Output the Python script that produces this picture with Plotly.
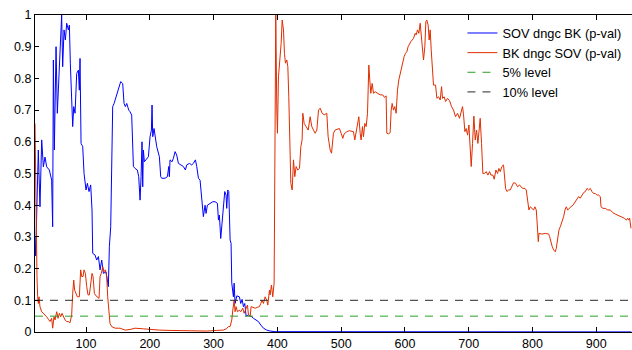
import plotly.graph_objects as go

# ---- data ----
sov_x = [20, 21, 25.2, 27.8, 30.5, 33.1, 35.7, 38.3, 42.5, 46.1, 47.7, 48.8, 50.3, 53, 55, 58.2, 60.3, 61.8,
         63.4, 65.5, 67.6, 69.7, 72.3, 73.9, 75.4, 77.5, 79.1, 80.7, 82.8, 85.4, 88, 89.5, 90.6, 92.2, 94.8,
         96.9, 100, 102.1, 104.7, 107.3, 109.4, 110.5, 114.1, 116.7, 119.4, 122, 124.6, 127.2, 131.4, 135,
         136.6, 138.7, 141.8, 144, 147, 149.2, 152.3, 154.4, 157.5, 159.6, 161.7, 163.8, 167, 169, 171.6,
         174.3, 176.9, 178.4, 180.5, 182.6, 184.7, 186.3, 187.8, 188.9, 189.9, 191.5, 194, 197.8, 200.4,
         202.5, 203.5, 204.6, 206.6, 208.7, 210.8, 215, 217.1, 218.7, 223.9, 227.6, 229.7, 230.7, 231.7,
         234.9, 237, 239.6, 242.2, 244.8, 248.5, 252.7, 255.8, 257.9, 262.1, 265.7, 268.3, 271.5, 273.6,
         276.2, 278.8, 281.4, 284, 286.6, 288.2, 290.3, 294.5, 298.7, 302.3, 306, 307.6, 309.1, 311.2,
         313.3, 315.4, 317.5, 319.6, 320.6, 322.2, 323.8, 325.9, 327.4, 328.5, 331.1, 332.2, 333.7, 336.4,
         340.5, 342.6, 344.7, 346.8, 348.9, 351, 354.7, 357.3, 359.9, 362.5, 366.7, 370.3, 374, 378.2,
         383.4, 388.6, 396.5, 500, 700, 955]
sov_p = [0.30, 0.24, 0.574, 0.395, 0.606, 0.521, 0.552, 0.521, 0.511, 0.479, 0.332, 0.858, 0.574, 0.9, 0.69,
         0.848, 0.963, 1.0, 0.837, 0.953, 0.921, 0.974, 0.953, 0.968, 0.848, 0.753, 0.648, 0.711, 0.69,
         0.816, 0.826, 0.763, 0.863, 0.595, 0.585, 0.5, 0.448, 0.469, 0.443, 0.464, 0.385, 0.248, 0.243,
         0.227, 0.238, 0.196, 0.227, 0.185, 0.19, 0.143, 0.269, 0.332, 0.711, 0.721, 0.742, 0.753, 0.779,
         0.79, 0.784, 0.721, 0.711, 0.721, 0.7, 0.695, 0.684, 0.522, 0.516, 0.513, 0.511, 0.49, 0.416,
         0.49, 0.6, 0.458, 0.574, 0.537, 0.543, 0.553, 0.616, 0.637, 0.716, 0.616, 0.642, 0.616, 0.585,
         0.553, 0.49, 0.485, 0.485, 0.49, 0.522, 0.49, 0.543, 0.537, 0.548, 0.569, 0.558, 0.532, 0.527,
         0.522, 0.511, 0.527, 0.532, 0.527, 0.532, 0.543, 0.522, 0.485, 0.479, 0.406, 0.364, 0.4, 0.374,
         0.4, 0.406, 0.411, 0.411, 0.406, 0.353, 0.369, 0.295, 0.353, 0.395, 0.443, 0.432, 0.39, 0.448,
         0.443, 0.29, 0.28, 0.154, 0.111, 0.154, 0.09, 0.114, 0.111, 0.09, 0.103, 0.08, 0.09, 0.05, 0.054,
         0.05, 0.048, 0.043, 0.038, 0.033, 0.022, 0.012, 0.006, 0.003, 0.001, 0.0006, 0.0004, 0.0003]

bk_x = [20, 21, 22, 23.1, 24.2, 25.2, 26.3, 27.8, 30.5, 33.1, 35.7, 38.3, 41, 43.5, 46.1, 47.7, 49.8, 51.4,
        54, 56.1, 58.2, 60.3, 62.4, 64.5, 67.1, 69.7, 72.3, 74.9, 76, 77.5, 79.1, 80.7, 82.2, 84.3, 86.4,
        89.5, 91.6, 93.2, 95.3, 96.9, 99, 101.1, 103.1, 105.2, 107.3, 109.4, 111, 113.1, 115.7, 118.3,
        120.4, 122, 124, 126.2, 128.2, 130.3, 132.4, 134, 135.6, 137.6, 140.3, 145.5, 153.4, 161.2, 169,
        176.9, 190, 200, 215, 230, 250, 270, 290, 305, 315, 320, 323.2, 325.9, 328.5, 330.1, 332.2, 333.7,
        335.3, 337.4, 340.5, 342.6, 345.8, 347.9, 351, 353.1, 354.7, 357.3, 358.8, 361.5, 365.1, 368.8,
        371.9, 374, 376, 378.2, 380.8, 383.4, 385, 387.6, 388.6, 390.7, 392.8, 394.9, 396, 397.5, 399.1,
        400.1, 401.7, 404.3, 405.9, 407.5, 409.6, 411.1, 412.7, 414.8, 416.4, 417.9, 419.5, 421.1, 423.2,
        425.3, 427.3, 429.4, 432, 434.7, 436.8, 438.8, 439.9, 442, 445.1, 448.3, 451.4, 454, 456.6, 459.2,
        461.9, 464.5, 467.1, 470.2, 473.4, 477.5, 479.6, 482.8, 484.9, 487.9, 490.5, 494.2, 497.3, 500,
        502.6, 504.7, 508.8, 513, 516.7, 519.3, 521.4, 523.5, 526.1, 527.7, 529.8, 531.3, 533.4, 535,
        537.1, 539.2, 541.3, 542.3, 543.4, 544.9, 546.5, 548.6, 550.7, 553.3, 557, 561.1, 565.3, 567.9,
        570.5, 571.6, 574.2, 576.8, 578.4, 580, 582, 584.1, 586.2, 588.3, 590.4, 592.5, 594.6, 596.7,
        598.8, 600.9, 603, 605, 607.1, 609.2, 611.3, 613.4, 616, 617.6, 619.7, 621.8, 623.9, 625.4, 627,
        629.1, 631.2, 632.8, 634.3, 636.4, 638, 639.6, 641.2, 642.7, 644.8, 648, 650.1, 652.7, 655.3,
        657.4, 659, 661.6, 663.7, 666.8, 669.9, 673.1, 676.2, 679.3, 682.5, 685.6, 688.2, 690.3, 691.9,
        694, 696.1, 698.2, 700.3, 702.3, 703.9, 706, 708.1, 710.2, 712.3, 714.4, 716.5, 718, 720.1, 722.2,
        724.8, 727.4, 730.1, 732.7, 734.8, 737.9, 740, 742.6, 745.2, 747.3, 749.4, 752, 754.6, 755.7,
        757.8, 759.9, 762.5, 765.1, 767.7, 770.3, 773.5, 776.6, 779.7, 781.8, 785, 788.1, 790.2, 792.3,
        794.4, 796.5, 799.1, 801.7, 803.8, 805.9, 807, 809.1, 810.1, 814.8, 820, 825.3, 826.8, 828.9, 831,
        833.1, 835.7, 837.3, 839.4, 841.5, 843.6, 846.2, 848.8, 850.9, 853, 855.1, 857.2, 860.3, 863.4,
        867.1, 869.7, 872.3, 874.9, 877.5, 880.2, 882.8, 885.4, 888, 890.6, 893.2, 895.8, 898.5, 901.1,
        903.7, 906.3, 907.4, 910.5, 914.1, 917.8, 922, 926.2, 929.8, 933.5, 936.6, 940.3, 943.9, 947.1,
        949.2, 950.7, 952.3, 954.4]
bk_p = [0.658, 0.49, 0.28, 0.175, 0.111, 0.09, 0.111, 0.08, 0.064, 0.059, 0.054, 0.048, 0.04, 0.033, 0.043,
        0.012, 0.048, 0.038, 0.064, 0.043, 0.059, 0.048, 0.059, 0.048, 0.038, 0.033, 0.033, 0.029, 0.048,
        0.054, 0.122, 0.164, 0.132, 0.122, 0.111, 0.111, 0.196, 0.175, 0.175, 0.196, 0.185, 0.143, 0.117,
        0.117, 0.154, 0.185, 0.175, 0.122, 0.114, 0.111, 0.106, 0.175, 0.185, 0.206, 0.19, 0.196, 0.175,
        0.111, 0.059, 0.027, 0.017, 0.012, 0.012, 0.006, 0.008, 0.012, 0.01, 0.008, 0.006, 0.005, 0.004,
        0.004, 0.003, 0.005, 0.006, 0.01, 0.017, 0.017, 0.038, 0.069, 0.1, 0.064, 0.08, 0.064, 0.069,
        0.064, 0.075, 0.059, 0.075, 0.085, 0.054, 0.048, 0.08, 0.077, 0.075, 0.078, 0.08, 0.09, 0.1, 0.09,
        0.111, 0.1, 0.085, 0.132, 0.117, 0.148, 0.111, 0.154, 0.595, 1.0, 0.7, 0.627, 0.805, 0.869, 0.91,
        0.984, 0.953, 0.879, 0.848, 0.858, 0.837, 0.742, 0.59, 0.469, 0.448, 0.543, 0.49, 0.522, 0.511,
        0.516, 0.585, 0.606, 0.69, 0.658, 0.648, 0.637, 0.679, 0.648, 0.637, 0.627, 0.637, 0.7, 0.706,
        0.69, 0.685, 0.69, 0.616, 0.574, 0.564, 0.627, 0.637, 0.639, 0.642, 0.627, 0.611, 0.625, 0.632,
        0.635, 0.634, 0.632, 0.606, 0.627, 0.653, 0.679, 0.627, 0.606, 0.648, 0.616, 0.658, 0.648, 0.69,
        0.774, 0.842, 0.795, 0.753, 0.784, 0.753, 0.758, 0.753, 0.748, 0.748, 0.74, 0.745, 0.627, 0.625,
        0.629, 0.7, 0.721, 0.7, 0.711, 0.69, 0.763, 0.795, 0.816, 0.837, 0.858, 0.869, 0.879, 0.884, 0.9,
        0.91, 0.916, 0.921, 0.926, 0.942, 0.937, 0.953, 0.942, 0.974, 0.937, 0.91, 0.858, 0.9, 0.979,
        0.984, 0.968, 0.921, 0.953, 0.89, 0.826, 0.779, 0.779, 0.737, 0.742, 0.732, 0.774, 0.737, 0.742,
        0.727, 0.737, 0.73, 0.711, 0.7, 0.679, 0.69, 0.674, 0.695, 0.711, 0.685, 0.632, 0.642, 0.621,
        0.653, 0.574, 0.522, 0.595, 0.681, 0.606, 0.637, 0.595, 0.648, 0.674, 0.595, 0.5, 0.5, 0.506,
        0.495, 0.506, 0.495, 0.495, 0.482, 0.511, 0.5, 0.516, 0.506, 0.522, 0.527, 0.49, 0.453, 0.443,
        0.448, 0.448, 0.458, 0.471, 0.469, 0.458, 0.464, 0.458, 0.453, 0.453, 0.448, 0.406, 0.385, 0.395,
        0.39, 0.385, 0.395, 0.385, 0.353, 0.285, 0.311, 0.309, 0.311, 0.309, 0.301, 0.28, 0.269, 0.259,
        0.253, 0.264, 0.29, 0.322, 0.332, 0.348, 0.364, 0.385, 0.395, 0.385, 0.39, 0.395, 0.4, 0.411,
        0.418, 0.427, 0.422, 0.432, 0.44, 0.443, 0.453, 0.448, 0.453, 0.443, 0.437, 0.437, 0.432, 0.432,
        0.427, 0.395, 0.39, 0.39, 0.385, 0.385, 0.376, 0.372, 0.369, 0.366, 0.362, 0.359, 0.353, 0.359,
        0.353, 0.359, 0.327]

level_x = [20, 956]
level5 = [0.05, 0.05]
level10 = [0.1, 0.1]

x_ticks = [100, 200, 300, 400, 500, 600, 700, 800, 900]
y_ticks = [0, 0.1, 0.2, 0.3, 0.4, 0.5, 0.6, 0.7, 0.8, 0.9, 1]
y_tick_text = ["0", "0.1", "0.2", "0.3", "0.4", "0.5", "0.6", "0.7", "0.8", "0.9", "1"]

FONT = "Liberation Sans, Arial, Helvetica, sans-serif"

fig = go.Figure()
fig.add_trace(go.Scatter(x=sov_x, y=sov_p, mode="lines", name="SOV dngc BK (p-val)",
                         line=dict(color="rgb(0,0,255)", width=1)))
fig.add_trace(go.Scatter(x=bk_x, y=bk_p, mode="lines", name="BK dngc SOV (p-val)",
                         line=dict(color="rgb(225,45,0)", width=1)))
fig.add_trace(go.Scatter(x=level_x, y=level5, mode="lines", name="5% level",
                         line=dict(color="rgb(40,160,40)", width=1, dash="8px,7px")))
fig.add_trace(go.Scatter(x=level_x, y=level10, mode="lines", name="10% level",
                         line=dict(color="rgb(40,40,40)", width=1, dash="8px,7px")))

fig.update_layout(
    width=632, height=350,
    margin=dict(l=35, r=0, t=15, b=18),
    paper_bgcolor="white", plot_bgcolor="white",
    font=dict(family=FONT, size=12, color="black"),
    showlegend=True,
    legend=dict(x=0.716, y=0.99, xanchor="left", yanchor="top",
                bgcolor="rgba(255,255,255,0)", borderwidth=0,
                font=dict(family=FONT, size=12.8, color="black"),
                tracegroupgap=0),
    xaxis=dict(range=[20, 956], tickmode="array", tickvals=x_ticks,
               ticks="inside", ticklen=5, tickcolor="black", showgrid=False, zeroline=False,
               showline=True, linecolor="black", linewidth=1, mirror="ticks",
               tickfont=dict(family=FONT, size=12.5, color="black")),
    yaxis=dict(range=[0, 1], tickmode="array", tickvals=y_ticks, ticktext=y_tick_text,
               ticks="inside", ticklen=4, tickcolor="black", showgrid=False, zeroline=False,
               showline=True, linecolor="black", linewidth=1, mirror=False,
               tickfont=dict(family=FONT, size=12.5, color="black")),
)

fig.write_html("out.html", config={"displayModeBar": False},
               post_script="document.body.style.margin='0px';document.body.style.overflow='hidden';")
